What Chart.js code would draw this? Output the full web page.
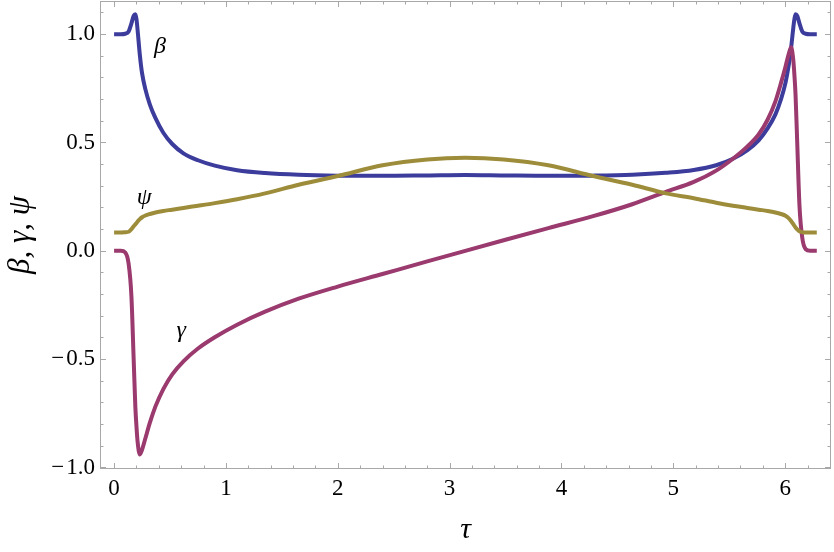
<!DOCTYPE html>
<html>
<head>
<meta charset="utf-8">
<script src="https://cdn.jsdelivr.net/npm/chart.js@4.4.1/dist/chart.umd.min.js"></script>
<style>
    body { margin: 0; background: #ffffff; }
    #wrap { width: 834px; height: 552px; }
</style>
</head>
<body>
<div id="wrap"><canvas id="chart" width="834" height="552"></canvas></div>
<script>
// Sample points along tau (0 .. 2*pi)
const tau = [0, 0.06, 0.1, 0.13, 0.155, 0.175, 0.19, 0.2, 0.21, 0.23, 0.25, 0.28, 0.32, 0.37, 0.44, 0.52, 0.62, 0.75, 0.9, 1.1, 1.35, 1.65, 2.0, 2.4, 2.8, 3.14,
    3.483, 3.883, 4.283, 4.633, 4.933, 5.183, 5.383, 5.533, 5.663, 5.763, 5.843, 5.913, 5.963, 6.003, 6.033, 6.053, 6.073, 6.083, 6.093, 6.108, 6.128, 6.153, 6.183, 6.223, 6.283];

// Series values
const beta = [1.0, 1.0, 1.002, 1.012, 1.05, 1.085, 1.092, 1.07, 1.02, 0.905, 0.82, 0.745, 0.675, 0.612, 0.545, 0.493, 0.45, 0.418, 0.393, 0.372, 0.359, 0.351, 0.347, 0.346, 0.348, 0.35,
    0.348, 0.346, 0.347, 0.351, 0.36, 0.373, 0.395, 0.425, 0.465, 0.51, 0.565, 0.63, 0.70, 0.775, 0.86, 0.935, 1.03, 1.07, 1.092, 1.085, 1.05, 1.012, 1.002, 1.0, 1.0];
const gamma = [0, 0, -0.008, -0.06, -0.21, -0.5, -0.72, -0.81, -0.88, -0.94, -0.918, -0.865, -0.793, -0.718, -0.638, -0.57, -0.51, -0.451, -0.399, -0.341, -0.281, -0.221, -0.165, -0.107, -0.049, 0.0,
    0.049, 0.105, 0.16, 0.215, 0.272, 0.318, 0.37, 0.425, 0.482, 0.537, 0.605, 0.69, 0.775, 0.85, 0.91, 0.94, 0.88, 0.81, 0.72, 0.5, 0.21, 0.06, 0.008, 0, 0];
const psi = [0.085, 0.085, 0.086, 0.088, 0.1, 0.113, 0.122, 0.128, 0.135, 0.146, 0.155, 0.163, 0.17, 0.177, 0.184, 0.19, 0.198, 0.208, 0.22, 0.238, 0.265, 0.305, 0.345, 0.395, 0.422, 0.43,
    0.422, 0.395, 0.345, 0.305, 0.265, 0.243, 0.222, 0.208, 0.198, 0.19, 0.184, 0.177, 0.17, 0.162, 0.15, 0.138, 0.123, 0.115, 0.108, 0.099, 0.09, 0.086, 0.085, 0.085, 0.085];

// Tick labels (major) and minor tick spacing
const xMajor = [0, 1, 2, 3, 4, 5, 6];
const yMajor = [-1.0, -0.5, 0.0, 0.5, 1.0];
const xMinorStep = 0.2;
const yMinorStep = 0.1;

// Curve labels
const curveNames = ['β', 'γ', 'ψ'];
const curveLabelTau = [0.41, 0.6, 0.27];
const curveLabelY = [0.94, -0.37, 0.245];

const colors = ['#3c3c9c', '#9a3a6e', '#9d8d3b'];
const frameColor = '#a8a8a8';

function toPoints(ys) {
    return tau.map((t, i) => ({ x: t, y: ys[i] }));
}

function minorTicks(scale, step) {
    const out = [];
    const start = Math.ceil((scale.min - 1e-9) / step);
    for (let k = start; k * step <= scale.max + 1e-9; k++) {
        out.push({ value: Math.round(k * step * 1000) / 1000 });
    }
    return out;
}

function isMajor(list, v) {
    return list.some(m => Math.abs(m - v) < 1e-6);
}

// Frame with inward ticks on all four sides, like a Mathematica frame plot
const framePlugin = {
    id: 'frame',
    beforeDatasetsDraw(chart) {
        const { ctx, chartArea: a, scales } = chart;
        const x = scales.x, y = scales.y;
        ctx.save();
        ctx.strokeStyle = frameColor;
        ctx.lineWidth = 1;
        ctx.beginPath();
        x.ticks.forEach(t => {
            const px = Math.round(x.getPixelForValue(t.value)) + 0.5;
            const len = isMajor(xMajor, t.value) ? 6 : 3.5;
            ctx.moveTo(px, a.bottom); ctx.lineTo(px, a.bottom - len);
            ctx.moveTo(px, a.top); ctx.lineTo(px, a.top + len);
        });
        y.ticks.forEach(t => {
            const py = Math.round(y.getPixelForValue(t.value)) + 0.5;
            const len = isMajor(yMajor, t.value) ? 6 : 3.5;
            ctx.moveTo(a.left, py); ctx.lineTo(a.left + len, py);
            ctx.moveTo(a.right, py); ctx.lineTo(a.right - len, py);
        });
        ctx.stroke();
        ctx.strokeRect(Math.round(a.left) + 0.5, Math.round(a.top) + 0.5,
            Math.round(a.right - a.left) - 1, Math.round(a.bottom - a.top) - 1);
        ctx.restore();
    },
    afterDatasetsDraw(chart) {
        const { ctx, scales } = chart;
        ctx.save();
        ctx.fillStyle = '#000000';
        ctx.font = 'italic 24px "Liberation Serif"';
        ctx.textAlign = 'center';
        ctx.textBaseline = 'middle';
        curveNames.forEach((name, i) => {
            ctx.fillText(name, scales.x.getPixelForValue(curveLabelTau[i]), scales.y.getPixelForValue(curveLabelY[i]));
        });
        ctx.restore();
    }
};

const tickFont = { family: 'Liberation Serif', size: 23 };

new Chart(document.getElementById('chart'), {
    type: 'line',
    data: {
        datasets: [
            { label: 'β', data: toPoints(beta), borderColor: colors[0], order: 3 },
            { label: 'γ', data: toPoints(gamma), borderColor: colors[1], order: 2 },
            { label: 'ψ', data: toPoints(psi), borderColor: colors[2], order: 1 }
        ]
    },
    options: {
        responsive: false,
        animation: false,
        devicePixelRatio: 1,
        layout: { padding: { top: 1, right: 3, left: 0, bottom: 0 } },
        elements: {
            point: { radius: 0 },
            line: { borderWidth: 4, cubicInterpolationMode: 'monotone', fill: false }
        },
        plugins: {
            legend: { display: false },
            tooltip: { enabled: false }
        },
        scales: {
            x: {
                type: 'linear',
                min: -0.126,
                max: 6.41,
                grid: { display: false, drawTicks: false },
                border: { display: false },
                afterBuildTicks: s => { s.ticks = minorTicks(s, xMinorStep); },
                afterFit: s => { s.height = 83; s.paddingLeft = 0; s.paddingRight = 0; },
                ticks: {
                    autoSkip: false,
                    maxRotation: 0,
                    padding: 6,
                    color: '#000000',
                    font: tickFont,
                    callback: v => isMajor(xMajor, v) ? String(Math.round(v)) : ''
                },
                title: {
                    display: true,
                    text: 'τ',
                    color: '#000000',
                    font: { family: 'Liberation Serif', size: 30, style: 'italic' },
                    padding: { top: 0, bottom: 4 }
                }
            },
            y: {
                type: 'linear',
                min: -1.007,
                max: 1.153,
                grid: { display: false, drawTicks: false },
                border: { display: false },
                afterBuildTicks: s => { s.ticks = minorTicks(s, yMinorStep); },
                afterFit: s => { s.width = 100; s.paddingTop = 0; s.paddingBottom = 0; },
                ticks: {
                    autoSkip: false,
                    padding: 5,
                    color: '#000000',
                    font: tickFont,
                    callback: v => isMajor(yMajor, v) ? v.toFixed(1).replace('-', '\u2212\u200a') : ''
                },
                title: {
                    display: true,
                    text: 'β, γ, ψ',
                    color: '#000000',
                    font: { family: 'Liberation Serif', size: 31, style: 'italic' },
                    padding: { top: 2, bottom: 0 }
                }
            }
        }
    },
    plugins: [framePlugin]
});
</script>
</body>
</html>
